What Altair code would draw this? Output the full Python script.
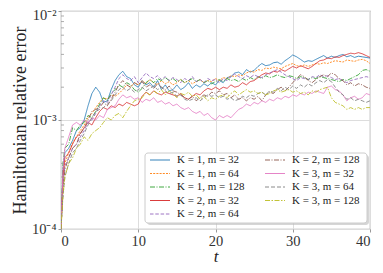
import altair as alt
import pandas as pd

T = [0, 0.25, 0.5, 1, 1.5, 2, 2.5, 3, 3.5, 4, 4.5, 5, 5.5, 6, 6.5, 7, 7.5, 8, 8.5, 9, 9.5,
     10, 10.5, 11, 11.5, 12, 12.5, 13, 13.5, 14, 14.5, 15, 15.5, 16, 16.5, 17, 17.5, 18, 18.5, 19, 19.5,
     20, 20.5, 21, 21.5, 22, 22.5, 23, 23.5, 24, 24.5, 25, 25.5, 26, 26.5, 27, 27.5, 28, 28.5, 29, 29.5,
     30, 30.5, 31, 31.5, 32, 32.5, 33, 33.5, 34, 34.5, 35, 35.5, 36, 36.5, 37, 37.5, 38, 38.5, 39, 39.5, 40]

# values in units of 1e-3
K1_M32 = [0.10, 0.35, 0.50, 0.55, 0.65, 0.80, 0.85, 1.0, 1.35, 1.75, 2.0, 1.8, 1.45, 1.5, 1.9, 2.3, 2.6, 2.8, 2.5, 2.4, 2.1,
          2.0, 2.3, 2.1, 2.2, 2.0, 2.3, 1.9, 2.1, 1.85, 1.9, 2.1, 1.9, 2.0, 2.2, 1.95, 2.1, 2.0, 2.15, 2.05, 2.2,
          2.1, 2.3, 2.2, 2.45, 2.5, 2.7, 2.75, 2.6, 2.9, 2.75, 2.85, 3.1, 3.3, 3.15, 3.2, 3.35, 3.4, 3.25, 3.5, 3.7,
          3.95, 3.8, 3.6, 3.4, 3.5, 3.45, 3.6, 3.75, 3.9, 3.7, 3.85, 3.75, 3.9, 4.0, 3.8, 3.9, 3.75, 3.85, 3.8, 3.75, 3.7]
K1_M64 = [0.10, 0.28, 0.40, 0.50, 0.62, 0.70, 0.80, 0.90, 1.05, 1.15, 1.3, 1.45, 1.6, 1.55, 1.7, 1.65, 1.75, 1.9, 2.1, 2.0, 2.2,
          2.1, 2.3, 2.15, 2.35, 2.2, 2.1, 2.3, 2.15, 2.25, 2.1, 2.2, 2.35, 2.2, 2.3, 2.15, 2.25, 2.35, 2.2, 2.3, 2.25,
          2.4, 2.3, 2.45, 2.4, 2.55, 2.5, 2.6, 2.55, 2.7, 2.8, 2.75, 2.9, 2.85, 3.0, 2.95, 3.05, 3.0, 2.95, 3.1, 3.2,
          3.3, 3.15, 3.1, 3.2, 3.1, 3.2, 3.3, 3.25, 3.35, 3.3, 3.4, 3.5, 3.45, 3.4, 3.55, 3.5, 3.45, 3.55, 3.6, 3.5, 3.3]
K1_M128 = [0.10, 0.40, 0.55, 0.60, 0.85, 0.80, 0.90, 0.95, 1.1, 1.05, 1.2, 1.4, 1.6, 1.5, 1.75, 1.9, 2.1, 2.0, 2.2, 2.1, 1.9,
           1.8, 1.95, 2.2, 2.35, 2.2, 2.4, 2.3, 2.45, 2.3, 2.4, 2.25, 2.35, 2.2, 2.3, 2.4, 2.25, 2.35, 2.2, 2.3, 2.15,
           2.25, 2.35, 2.25, 2.4, 2.3, 2.35, 2.25, 2.4, 2.3, 2.45, 2.35, 2.5, 2.4, 2.55, 2.45, 2.5, 2.6, 2.5, 2.45, 2.55,
           2.5, 2.4, 2.5, 2.45, 2.35, 2.45, 2.4, 2.5, 2.45, 2.4, 2.35, 2.3, 2.25, 2.35, 2.3, 2.4, 2.5, 2.6, 2.85, 2.9, 2.8]
K2_M32 = [0.10, 0.30, 0.45, 0.50, 0.60, 0.70, 0.75, 0.85, 0.95, 0.90, 1.05, 1.2, 1.3, 1.25, 1.35, 1.3, 1.4, 1.35, 1.45, 1.4, 1.35,
          1.4, 1.65, 1.8, 1.7, 1.85, 1.75, 1.7, 1.8, 1.75, 1.7, 1.65, 1.75, 1.6, 1.55, 1.65, 1.75, 1.7, 1.85, 1.95, 1.9,
          2.0, 1.9, 2.0, 1.95, 2.1, 2.0, 2.05, 2.2, 2.1, 2.25, 2.3, 2.45, 2.6, 2.7, 2.65, 2.8, 2.75, 2.9, 2.8, 2.95,
          3.1, 3.0, 3.15, 3.05, 2.95, 3.1, 3.3, 3.5, 3.55, 3.7, 3.65, 3.8, 3.75, 3.9, 4.0, 4.1, 4.05, 4.15, 4.05, 3.9, 3.75]
K2_M64 = [0.10, 0.25, 0.38, 0.45, 0.55, 0.60, 0.70, 0.80, 0.95, 1.0, 1.15, 1.35, 1.5, 1.45, 1.7, 2.0, 2.4, 2.6, 2.4, 2.3, 2.5,
          2.2, 2.45, 2.7, 2.5, 2.4, 2.55, 2.35, 2.5, 2.3, 2.45, 2.35, 2.2, 2.4, 2.3, 2.5, 2.25, 2.35, 2.2, 2.4, 2.3,
          2.35, 2.2, 2.4, 2.3, 2.5, 2.65, 2.5, 2.4, 2.55, 2.45, 2.6, 2.5, 2.45, 2.6, 2.7, 2.8, 2.9, 2.75, 2.6, 2.5,
          2.4, 2.3, 2.45, 2.4, 2.35, 2.5, 2.45, 2.6, 2.5, 2.55, 2.45, 2.35, 2.4, 2.3, 2.2, 2.3, 2.35, 2.4, 2.45, 2.5, 2.45]
K2_M128 = [0.10, 0.22, 0.35, 0.45, 0.55, 0.60, 0.75, 0.85, 1.0, 1.2, 1.25, 1.3, 1.45, 1.35, 1.55, 1.8, 2.1, 2.3, 2.1, 2.0, 2.2,
           2.1, 2.25, 2.0, 2.1, 1.95, 2.15, 2.0, 1.9, 2.05, 1.85, 1.8, 1.7, 1.6, 1.55, 1.65, 1.5, 1.6, 1.7, 1.65, 1.8,
           1.75, 1.85, 1.7, 1.75, 1.6, 1.7, 1.55, 1.6, 1.5, 1.6, 1.55, 1.65, 1.5, 1.7, 1.8, 1.75, 1.9, 2.0, 1.85, 2.0,
           2.2, 2.4, 2.6, 2.5, 2.3, 2.2, 2.35, 2.5, 2.6, 2.5, 2.7, 2.6, 2.4, 2.3, 2.1, 2.2, 2.05, 2.15, 2.1, 2.0, 1.95]
K3_M32 = [0.10, 0.35, 0.55, 0.70, 0.90, 0.95, 0.90, 1.0, 0.95, 1.05, 1.0, 1.1, 1.05, 1.25, 1.3, 1.35, 1.55, 1.7, 1.6, 1.65, 1.55,
          1.6, 1.45, 1.55, 1.5, 1.6, 1.45, 1.5, 1.4, 1.45, 1.35, 1.4, 1.3, 1.25, 1.3, 1.2, 1.15, 1.2, 1.1, 1.15, 1.05,
          1.0, 1.1, 1.05, 1.1, 1.05, 1.15, 1.25, 1.3, 1.4, 1.35, 1.45, 1.4, 1.5, 1.45, 1.55, 1.5, 1.6, 1.55, 1.65, 1.6,
          1.7, 1.65, 1.75, 1.7, 1.8, 1.75, 1.85, 1.8, 1.75, 2.0, 2.05, 1.9, 1.85, 1.7, 1.5, 1.6, 1.65, 1.55, 1.6, 1.75, 1.7]
K3_M64 = [0.10, 0.20, 0.30, 0.40, 0.50, 0.55, 0.65, 0.75, 0.90, 1.05, 1.2, 1.25, 1.3, 1.4, 1.5, 1.7, 1.9, 2.0, 1.85, 1.95, 1.8,
          1.9, 2.0, 1.85, 1.95, 2.05, 1.9, 2.0, 1.85, 1.75, 1.8, 1.65, 1.7, 1.55, 1.5, 1.55, 1.6, 1.5, 1.6, 1.7, 1.65,
          1.7, 1.6, 1.65, 1.55, 1.6, 1.5, 1.55, 1.65, 1.6, 1.7, 1.65, 1.75, 1.8, 1.7, 1.85, 1.8, 1.95, 1.85, 2.0, 1.9,
          2.05, 1.95, 2.1, 2.0, 2.15, 2.05, 2.2, 2.3, 2.2, 2.35, 2.25, 2.0, 1.8, 1.7, 1.55, 1.6, 1.5, 1.55, 1.5, 1.45, 1.5]
K3_M128 = [0.10, 0.20, 0.30, 0.40, 0.45, 0.55, 0.60, 0.70, 0.65, 0.75, 0.80, 0.85, 0.95, 1.05, 1.0, 1.1, 1.15, 1.05, 1.2, 1.35, 1.5,
           1.55, 1.6, 1.8, 1.7, 1.85, 1.75, 1.9, 1.7, 1.85, 1.75, 1.6, 1.75, 1.7, 1.8, 1.65, 1.7, 1.55, 1.65, 1.5, 1.6,
           1.55, 1.65, 1.7, 1.6, 1.75, 1.85, 1.7, 1.8, 1.9, 1.8, 1.85, 1.75, 1.8, 1.7, 1.75, 1.85, 1.9, 1.8, 1.85, 1.9,
           1.8, 1.85, 1.75, 1.8, 1.7, 1.85, 1.8, 1.9, 1.95, 2.0, 1.6, 1.45, 1.4, 1.35, 1.25, 1.3, 1.25, 1.3, 1.25, 1.3, 1.3]

SERIES = ["K = 1, m = 32", "K = 1, m = 64", "K = 1, m = 128",
          "K = 2, m = 32", "K = 2, m = 64", "K = 2, m = 128",
          "K = 3, m = 32", "K = 3, m = 64", "K = 3, m = 128"]
VALUES = [K1_M32, K1_M64, K1_M128, K2_M32, K2_M64, K2_M128, K3_M32, K3_M64, K3_M128]
COLORS = ["#1f77b4", "#ff7f0e", "#2ca02c", "#d62728", "#9467bd", "#8c564b", "#e377c2", "#7f7f7f", "#bcbd22"]
DASHES = [[1, 0], [2, 1.2], [5, 1.5, 1, 1.5], [1, 0], [3.5, 1.8], [5, 1.5, 1, 1.5], [1, 0], [4, 2], [5, 1.5, 1.5, 1.5]]
WIDTHS = [1.0, 1.0, 1.0, 1.6, 1.2, 1.2, 1.6, 1.2, 1.6]
LEG_COL = [0, 0, 0, 0, 0, 1, 1, 1, 1]
LEG_ROW = [0, 1, 2, 3, 4, 0, 1, 2, 3]

MINOR_TICKS = [2e-4, 3e-4, 4e-4, 5e-4, 6e-4, 7e-4, 8e-4, 9e-4,
               2e-3, 3e-3, 4e-3, 5e-3, 6e-3, 7e-3, 8e-3, 9e-3]

rows = []
for i, (name, vals) in enumerate(zip(SERIES, VALUES)):
    assert len(vals) == len(T), (name, len(vals))
    for t, v in zip(T, vals):
        rows.append({"t": t, "err": v * 1e-3, "series": name, "idx": i})
df = pd.DataFrame(rows)
leg_df = pd.DataFrame({"series": SERIES, "col": LEG_COL, "row": LEG_ROW})

FONT = "Liberation Serif"
xs = alt.Scale(domain=[0, 40], nice=False, zero=False)
ys = alt.Scale(type="log", domain=[1e-4, 1e-2], nice=False)
cs = alt.Scale(domain=SERIES, range=COLORS)
ds = alt.Scale(domain=SERIES, range=DASHES)
ws = alt.Scale(domain=SERIES, range=WIDTHS)

lines = alt.Chart(df).mark_line(opacity=0.85, clip=True).encode(
    x=alt.X("t:Q", scale=xs, title="t",
            axis=alt.Axis(values=[0, 10, 20, 30, 40], format="d", grid=True, gridColor="#dddddd",
                          tickSize=3, tickColor="#999", domain=False, labelPadding=2,
                          titleFontStyle="italic", titleFontSize=17, titleFontWeight="normal", titlePadding=1)),
    y=alt.Y("err:Q", scale=ys, title="Hamiltonian relative error",
            axis=alt.Axis(values=[1e-4, 1e-3, 1e-2], grid=True, gridColor="#dddddd",
                          tickSize=3, tickColor="#999", domain=False,
                          labelExpr="datum.value < 0.0005 ? '10⁻⁴' : (datum.value < 0.005 ? '10⁻³' : '10⁻²')",
                          labelOffset={"condition": {"test": "datum.value > 0.005", "value": 4}, "value": 0},
                          labelPadding=2, titleFontSize=18, titleFontWeight="normal", titlePadding=2)),
    color=alt.Color("series:N", scale=cs, legend=None),
    strokeDash=alt.StrokeDash("series:N", scale=ds, legend=None),
    strokeWidth=alt.StrokeWidth("series:N", scale=ws, legend=None),
    order=alt.Order("idx:Q"),
)

minor = alt.Chart(pd.DataFrame({"v": MINOR_TICKS})).mark_rule(color="#999", strokeWidth=0.8).encode(
    y=alt.Y("v:Q", scale=ys, axis=None), x=alt.value(0), x2=alt.value(3))

# legend box (with a soft shadow like matplotlib's fancybox legend)
box_shadow = alt.Chart(pd.DataFrame({"a": [0]})).mark_rect(
    fill="#bbbbbb", cornerRadius=3, opacity=0.6).encode(
    x=alt.value(86), x2=alt.value(308), y=alt.value(144), y2=alt.value(214))
box = alt.Chart(pd.DataFrame({"a": [0]})).mark_rect(
    fill="white", stroke="#cccccc", strokeWidth=1, cornerRadius=3).encode(
    x=alt.value(84), x2=alt.value(306), y=alt.value(142), y2=alt.value(212))

lx = alt.Scale(domain=[0, 1], range=[99, 214])
ly = alt.Scale(domain=[0, 4], range=[149, 203])

leg_sym = alt.Chart(leg_df).mark_point(shape="stroke", size=400, filled=False, opacity=0.9).encode(
    x=alt.X("col:Q", scale=lx, axis=None),
    y=alt.Y("row:Q", scale=ly, axis=None),
    color=alt.Color("series:N", scale=cs, legend=None),
    strokeDash=alt.StrokeDash("series:N", scale=ds, legend=None),
    strokeWidth=alt.StrokeWidth("series:N", scale=ws, legend=None),
)
leg_txt = alt.Chart(leg_df).mark_text(align="left", baseline="middle", dx=17, font=FONT,
                                      fontSize=11, color="#222").encode(
    x=alt.X("col:Q", scale=lx, axis=None),
    y=alt.Y("row:Q", scale=ly, axis=None),
    text="series:N",
)

chart = alt.layer(lines, minor, box_shadow, box, leg_sym, leg_txt).resolve_scale(
    x="independent", y="independent"
).properties(
    width=309, height=218, autosize=alt.AutoSizeParams(type="none"),
    padding={"left": 53, "top": 3, "right": 5, "bottom": 36},
    background="white",
).configure_view(stroke="#a8a8a8", strokeWidth=1.2).configure_axis(
    labelFont=FONT, titleFont=FONT, labelFontSize=14.5, labelColor="#333", titleColor="#222"
)

chart.save("out.html", embed_options={"renderer": "svg", "actions": False})
